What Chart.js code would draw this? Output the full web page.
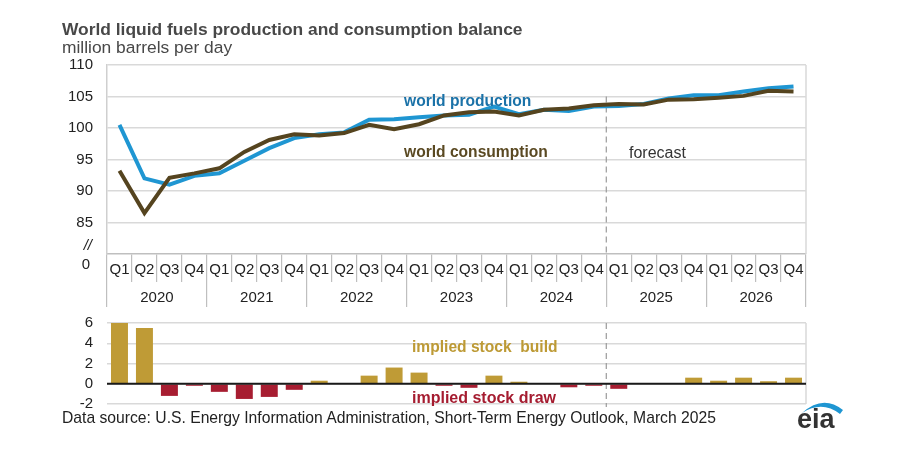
<!DOCTYPE html>
<html lang="en">
<head>
<meta charset="UTF-8">
<title>World liquid fuels production and consumption balance</title>
<script src="https://cdn.jsdelivr.net/npm/chart.js@4.4.1/dist/chart.umd.min.js"></script>
<style>
  body{margin:0;background:#fff;font-family:'Liberation Sans',Arial,sans-serif;}
  #wrap{position:relative;width:900px;height:450px;overflow:hidden;}
  #wrap canvas{position:absolute;left:0;}
  .lbl{position:absolute;white-space:pre;line-height:18px;font-size:15.7px;}
  .b{font-weight:bold;}
</style>
</head>
<body>
<div id="wrap">
  <canvas id="topChart" width="900" height="315" style="top:0"></canvas>
  <canvas id="stockChart" width="900" height="127" style="top:300px"></canvas>

  <div class="lbl b" style="left:62px;top:20px;font-size:17.4px;color:#484848">World liquid fuels production and consumption balance</div>
  <div class="lbl" style="left:62px;top:38px;font-size:17.4px;color:#484848">million barrels per day</div>

  <div class="lbl b" style="left:404px;top:92px;font-size:15.6px;color:#1b72a8">world production</div>
  <div class="lbl b" style="left:404px;top:143px;font-size:15.6px;color:#5a4922">world consumption</div>
  <div class="lbl" style="left:629px;top:144px;font-size:16px;color:#333">forecast</div>

  <div class="lbl b" style="left:412px;top:338px;font-size:15.6px;color:#bd9a35">implied stock  build</div>
  <div class="lbl b" style="left:412px;top:389px;font-size:16px;color:#a51c30">implied stock draw</div>

  <div class="lbl" style="left:62px;top:409px;color:#222">Data source: U.S. Energy Information Administration, Short-Term Energy Outlook, March 2025</div>

  <svg style="position:absolute;left:790px;top:390px" width="60" height="45">
    <path d="M12 23 Q33 4 53 20 L50 24 Q32 10 12 23 Z" fill="#1f96d2"/>
    <text x="7" y="38" font-family="Liberation Sans, Arial, sans-serif" font-weight="bold" font-size="27" fill="#333">eia</text>
  </svg>
</div>

<script>
  // quarters 2020 Q1 .. 2026 Q4
  const years = ['2020', '2021', '2022', '2023', '2024', '2025', '2026'];
  const quarterLabels = [];
  years.forEach(function() { quarterLabels.push('Q1', 'Q2', 'Q3', 'Q4'); });
  const firstForecastIndex = 20; // 2025 Q1

  const production = [100.5, 92.0, 91.0, 92.4, 92.8, 94.8, 96.8, 98.4,
                      99.0, 99.3, 101.3, 101.4, 101.7, 102.0, 102.1, 103.4,
                      102.2, 102.9, 102.7, 103.4, 103.5, 103.8, 104.7, 105.2,
                      105.2, 105.8, 106.3, 106.6];
  const consumption = [93.2, 86.5, 92.1, 92.8, 93.6, 96.2, 98.1, 99.0,
                       98.8, 99.2, 100.5, 99.8, 100.6, 102.0, 102.5, 102.6,
                       102.0, 102.9, 103.1, 103.6, 103.8, 103.75, 104.5, 104.55,
                       104.8, 105.1, 105.9, 105.8];
  const stockChange = [7.3, 5.5, -1.2, -0.2, -0.8, -1.5, -1.3, -0.6,
                       0.3, 0.05, 0.8, 1.6, 1.1, -0.2, -0.4, 0.8,
                       0.2, 0, -0.35, -0.2, -0.5, 0, 0, 0.6,
                       0.3, 0.6, 0.25, 0.6];

  const FONT = "'Liberation Sans', Arial, sans-serif";
  Chart.defaults.font.family = FONT;
  Chart.defaults.font.size = 15;
  Chart.defaults.color = '#222';

  const GRID = '#d9d9d9';
  const AXIS = '#bfbfbf';

  function forecastX(x) {
    return (x.getPixelForValue(firstForecastIndex - 1) + x.getPixelForValue(firstForecastIndex)) / 2;
  }

  const topExtras = {
    id: 'topExtras',
    beforeDatasetsDraw(chart) {
      const ctx = chart.ctx, a = chart.chartArea, x = chart.scales.x, y = chart.scales.y;
      ctx.save();
      ctx.strokeStyle = GRID; ctx.lineWidth = 1.5;
      ctx.beginPath(); ctx.moveTo(a.right, a.top); ctx.lineTo(a.right, a.bottom); ctx.stroke();
      const fx = forecastX(x);
      ctx.setLineDash([6, 4]); ctx.strokeStyle = '#9a9a9a'; ctx.lineWidth = 1.2;
      ctx.beginPath(); ctx.moveTo(fx, y.getPixelForValue(105)); ctx.lineTo(fx, a.bottom); ctx.stroke();
      ctx.restore();
    },
    afterDraw(chart) {
      const ctx = chart.ctx, a = chart.chartArea;
      ctx.save();
      ctx.fillStyle = '#222'; ctx.textAlign = 'right'; ctx.textBaseline = 'middle';
      ctx.font = '15px ' + FONT;
      ctx.fillText('0', a.left - 17, a.bottom + 11);
      ctx.font = 'italic 15px ' + FONT;
      ctx.fillText('//', a.left - 15, a.bottom - 8);
      ctx.restore();
    }
  };

  const stockExtras = {
    id: 'stockExtras',
    beforeDatasetsDraw(chart) {
      const ctx = chart.ctx, a = chart.chartArea, x = chart.scales.x;
      ctx.save();
      ctx.strokeStyle = GRID; ctx.lineWidth = 1.5;
      ctx.beginPath(); ctx.moveTo(a.right, a.top); ctx.lineTo(a.right, a.bottom); ctx.stroke();
      const fx = forecastX(x);
      ctx.setLineDash([6, 4]); ctx.strokeStyle = '#9a9a9a'; ctx.lineWidth = 1.2;
      ctx.beginPath(); ctx.moveTo(fx, a.top); ctx.lineTo(fx, a.bottom + 3); ctx.stroke();
      ctx.restore();
    },
    afterDatasetsDraw(chart) {
      const ctx = chart.ctx, a = chart.chartArea, y = chart.scales.y;
      const y0 = y.getPixelForValue(0);
      ctx.save();
      ctx.strokeStyle = '#1a1a1a'; ctx.lineWidth = 2;
      ctx.beginPath(); ctx.moveTo(a.left, y0); ctx.lineTo(a.right, y0); ctx.stroke();
      ctx.restore();
    }
  };

  new Chart(document.getElementById('topChart').getContext('2d'), {
    type: 'line',
    data: {
      labels: quarterLabels,
      datasets: [
        {
          label: 'world production',
          data: production,
          borderColor: '#1f96d2',
          borderWidth: 4,
          pointRadius: 0,
          tension: 0,
          order: 2
        },
        {
          label: 'world consumption',
          data: consumption,
          borderColor: '#55441f',
          borderWidth: 4,
          pointRadius: 0,
          tension: 0,
          order: 1
        }
      ]
    },
    options: {
      responsive: false,
      animation: false,
      layout: { padding: { left: 0, right: 94, top: 65, bottom: 7 } },
      plugins: { legend: { display: false }, tooltip: { enabled: false } },
      scales: {
        x: {
          offset: true,
          weight: 1,
          grid: { offset: true, drawOnChartArea: false, tickLength: 28, color: AXIS, lineWidth: 1.2 },
          border: { color: AXIS, width: 1.5 },
          ticks: { padding: -21, autoSkip: false, maxRotation: 0 },
          afterFit: function(s) { s.height = 28; }
        },
        xYear: {
          type: 'category',
          position: 'bottom',
          labels: years,
          offset: true,
          weight: 2,
          grid: { offset: true, drawOnChartArea: false, tickLength: 25, color: AXIS, lineWidth: 1.2 },
          border: { display: false },
          ticks: { padding: -18, autoSkip: false, maxRotation: 0 },
          afterFit: function(s) { s.height = 26; }
        },
        y: {
          min: 80,
          max: 110,
          ticks: {
            stepSize: 5,
            padding: 14,
            callback: function(v) { return v === 80 ? '' : v; }
          },
          grid: {
            drawTicks: false,
            lineWidth: 1.5,
            color: function(c) { return c.tick && c.tick.value === 80 ? 'rgba(0,0,0,0)' : GRID; }
          },
          border: { color: '#cfcfcf', width: 1.5 },
          afterFit: function(s) { s.width = 107; }
        }
      }
    },
    plugins: [topExtras]
  });

  new Chart(document.getElementById('stockChart').getContext('2d'), {
    type: 'bar',
    data: {
      labels: quarterLabels,
      datasets: [{
        label: 'implied stock change',
        data: stockChange,
        backgroundColor: stockChange.map(function(v) { return v >= 0 ? '#bf9b36' : '#a71d31'; }),
        categoryPercentage: 1,
        barPercentage: 0.68
      }]
    },
    options: {
      responsive: false,
      animation: false,
      layout: { padding: { left: 0, right: 94, top: 22, bottom: 11 } },
      plugins: { legend: { display: false }, tooltip: { enabled: false } },
      scales: {
        x: { display: false, offset: true, grid: { offset: true } },
        y: {
          min: -2,
          max: 6,
          ticks: { stepSize: 2, padding: 14, autoSkip: false },
          grid: { drawTicks: false, color: GRID, lineWidth: 1.5 },
          border: { display: false },
          afterFit: function(s) { s.width = 107; }
        }
      }
    },
    plugins: [stockExtras]
  });
</script>
</body>
</html>
